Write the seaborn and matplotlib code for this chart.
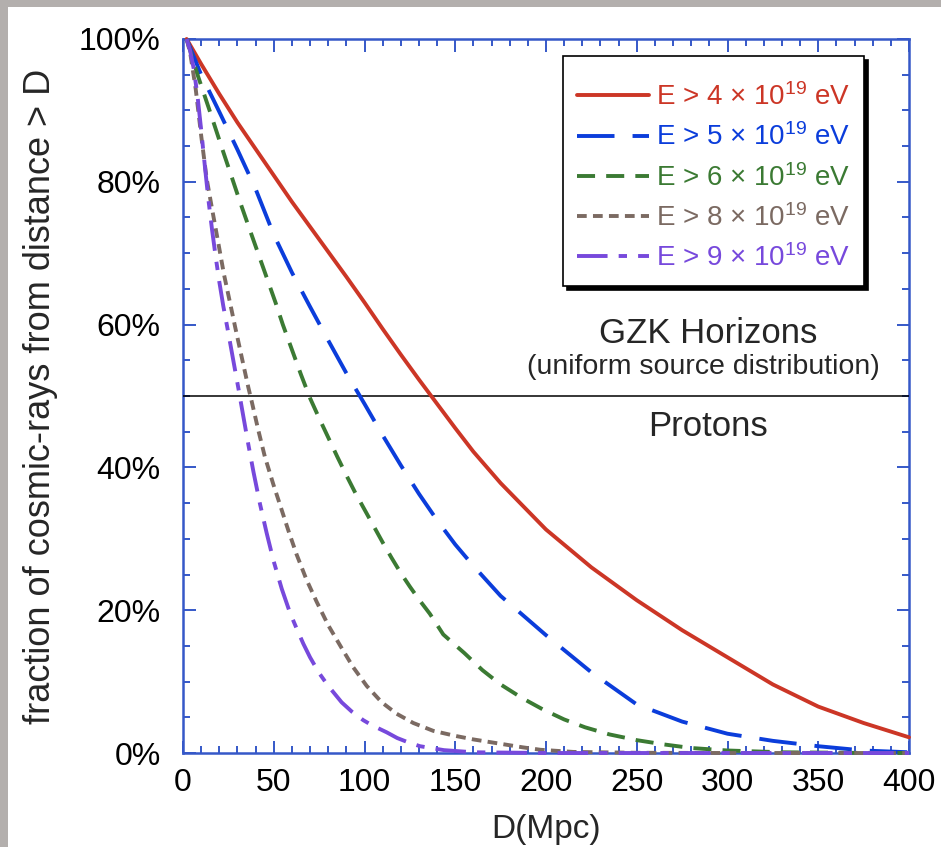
import matplotlib
matplotlib.use("Agg")
import numpy as np
import pandas as pd
import seaborn as sns
import matplotlib.pyplot as plt
from matplotlib.patches import Rectangle
from matplotlib.ticker import MultipleLocator, FuncFormatter

# ---------------- data ----------------
series_labels = [
    "E > 4 × 10$^{19}$ eV",
    "E > 5 × 10$^{19}$ eV",
    "E > 6 × 10$^{19}$ eV",
    "E > 8 × 10$^{19}$ eV",
    "E > 9 × 10$^{19}$ eV",
]

d_e4 = [2, 10, 20, 30, 40, 50, 60, 70, 80, 90, 100, 110, 120, 130, 140, 150, 160, 175,
        200, 225, 250, 275, 300, 325, 350, 375, 400]
f_e4 = [100, 96.5, 92.3, 88.3, 84.6, 80.9, 77.2, 73.7, 70.2, 66.7, 63.1, 59.4, 55.8, 52.3,
        48.9, 45.5, 42.2, 37.8, 31.3, 26, 21.4, 17.2, 13.4, 9.6, 6.5, 4.2, 2.2]

d_e5 = [2, 10, 20, 30, 40, 50, 60, 70, 80, 90, 100, 110, 120, 130, 140, 150, 160, 175,
        200, 225, 250, 275, 300, 325, 350, 375, 400]
f_e5 = [100, 95, 89.8, 84.5, 79.0, 72.6, 67.3, 62.5, 57.8, 53.2, 48.9, 44.5, 40.3, 36.3,
        32.6, 29.2, 26.2, 22, 16.5, 11.3, 6.8, 4.4, 2.7, 1.7, 0.95, 0.35, 0.1]

d_e6 = [2, 8, 14.9, 21.9, 26.8, 31.4, 36.5, 41.5, 46.1, 51.1, 55, 60, 65, 70, 75, 80, 85,
        90, 95, 100, 105, 110, 115, 120, 125, 130, 136, 143.4, 155, 165, 175, 186.8, 198.3,
        210, 221.5, 235, 250, 265, 280, 300, 330, 370, 400]
f_e6 = [100, 95, 89.8, 84.4, 80.7, 77.2, 73.5, 69.9, 66.6, 63, 60, 56.5, 53, 49.7, 46.9, 44.2,
        41.5, 38.9, 36.4, 34.1, 31.8, 29.5, 27.3, 25.2, 23.3, 21.5, 19.5, 16.6, 14, 11.6, 9.6,
        7.7, 6.1, 4.7, 3.6, 2.6, 1.8, 1.2, 0.7, 0.35, 0.1, 0.02, 0]

d_e8 = [2, 4, 7, 10, 13, 15.8, 19.4, 22.6, 26.8, 28.7, 32.3, 36, 37.8, 41.5, 45.1, 49.8, 53.4,
        58, 62.6, 68, 73.6, 80, 87.4, 93.8, 101.2, 109.5, 117.7, 126.9, 137.9, 150, 160,
        173.5, 187, 197, 215, 250, 300, 400]
f_e8 = [100, 98, 93, 86.5, 80.5, 76.5, 71.5, 67, 62, 59.7, 55.5, 51.2, 49.3, 45.2, 41.5, 37.6,
        34.8, 31.2, 27.8, 24.3, 21.2, 17.9, 14.7, 12, 9.4, 7.1, 5.5, 4.2, 3.1, 2.4, 1.9,
        1.35, 0.8, 0.45, 0.15, 0.03, 0, 0]

d_e9 = [2, 4, 6, 8, 10, 12, 14, 16, 18, 20, 22.2, 25, 27.7, 30.5, 33.2, 36, 38.8, 42.4, 46.1,
        49.8, 54.4, 59, 63, 66.3, 70, 75, 80, 87.4, 93, 99.3, 104, 112.2, 118, 124, 130.6,
        143.8, 160, 200, 400]
f_e9 = [100, 98.3, 95.7, 92, 87.3, 82.3, 77.5, 73.3, 69.5, 66, 62.6, 58.8, 55, 51.1, 47.2,
        43.2, 39.4, 34.9, 30.8, 27, 23, 19.6, 17.2, 15.3, 13.4, 11.2, 9.4, 7.1, 5.8, 4.6, 3.9,
        2.9, 2.1, 1.5, 0.95, 0.4, 0.1, 0, 0]

x_ticks = [0, 50, 100, 150, 200, 250, 300, 350, 400]
y_ticks = [0, 20, 40, 60, 80, 100]

# ---------------- styles ----------------
colors = ["#cc3626", "#0b3ddb", "#3b7a33", "#7b6a62", "#7749dc"]
dash_styles = ["", (27, 13), (13, 8), (7, 4.5), (22, 8, 6, 8)]
axis_blue = "#3558c8"

sns.set_style("ticks")
plt.rcParams["font.family"] = ["Liberation Sans", "DejaVu Sans"]
plt.rcParams["mathtext.fontset"] = "custom"
plt.rcParams["mathtext.rm"] = "Liberation Sans"
plt.rcParams["mathtext.it"] = "Liberation Sans:italic"
plt.rcParams["mathtext.bf"] = "Liberation Sans:bold"
plt.rcParams["lines.scale_dashes"] = False

frames = []
for lab, d, f in zip(series_labels, [d_e4, d_e5, d_e6, d_e8, d_e9],
                     [f_e4, f_e5, f_e6, f_e8, f_e9]):
    frames.append(pd.DataFrame({"D": d, "frac": f, "series": lab}))
df = pd.concat(frames, ignore_index=True)

fig = plt.figure(figsize=(9.41, 8.47), dpi=100, facecolor="#b3afad")
fig.patches.append(Rectangle((8 / 941, 0), 1, 1 - 7 / 847, transform=fig.transFigure,
                             facecolor="white", edgecolor="none", zorder=-10))
ax = fig.add_axes([183 / 941, 1 - 753 / 847, 726 / 941, 714 / 847])
ax.set_facecolor("white")

sns.lineplot(data=df, x="D", y="frac", hue="series", style="series",
             hue_order=series_labels, style_order=series_labels,
             palette=dict(zip(series_labels, colors)),
             dashes=dict(zip(series_labels, dash_styles)),
             estimator=None, sort=False, linewidth=2.8, legend=False, ax=ax,
             clip_on=False, zorder=5)

handles = list(ax.lines[:5])

ax.axhline(50, color="black", lw=1.1, zorder=4)

ax.set_xlim(0, 400)
ax.set_ylim(0, 100)
ax.set_xticks(x_ticks)
ax.set_yticks(y_ticks)
ax.xaxis.set_minor_locator(MultipleLocator(10))
ax.yaxis.set_minor_locator(MultipleLocator(5))
ax.yaxis.set_major_formatter(FuncFormatter(lambda v, p: f"{v:.0f}%"))
ax.tick_params(which="both", direction="in", top=True, right=True,
               color=axis_blue, width=1.4, labelsize=23, labelcolor="black")
ax.tick_params(which="major", length=9)
ax.tick_params(which="minor", length=5)
ax.tick_params(axis="x", which="both", pad=11)
ax.tick_params(axis="y", which="both", pad=16)
for sp in ax.spines.values():
    sp.set_color(axis_blue)
    sp.set_linewidth(1.8)
    sp.set_zorder(3)

ax.set_xlabel("D(Mpc)", fontsize=24)
ax.set_ylabel("fraction of cosmic-rays from distance > D", fontsize=26)
ax.xaxis.set_label_coords(0.5, -0.085)
ax.yaxis.set_label_coords(-0.172, 0.5)

ax.text(289.3, 58.7, "GZK Horizons", ha="center", va="center", fontsize=25)
ax.text(286.5, 54.1, "(uniform source distribution)", ha="center", va="center", fontsize=20.5)
ax.text(289.3, 45.7, "Protons", ha="center", va="center", fontsize=25)

leg = ax.legend(handles, series_labels, loc="upper left", bbox_to_anchor=(0.523, 0.976),
                borderaxespad=0, fontsize=20, frameon=True, fancybox=False,
                edgecolor="black", framealpha=1, title=" ", title_fontsize=1,
                shadow={"color": "black", "alpha": 1, "ox": 3, "oy": -3},
                handlelength=2.6, handletextpad=0.25, labelspacing=0.445, borderpad=0.5)
leg.get_frame().set_linewidth(1.2)
leg.set_zorder(10)
for t, c in zip(leg.get_texts(), colors):
    t.set_color(c)

fig.savefig("out.png", dpi=100, facecolor=fig.get_facecolor())
